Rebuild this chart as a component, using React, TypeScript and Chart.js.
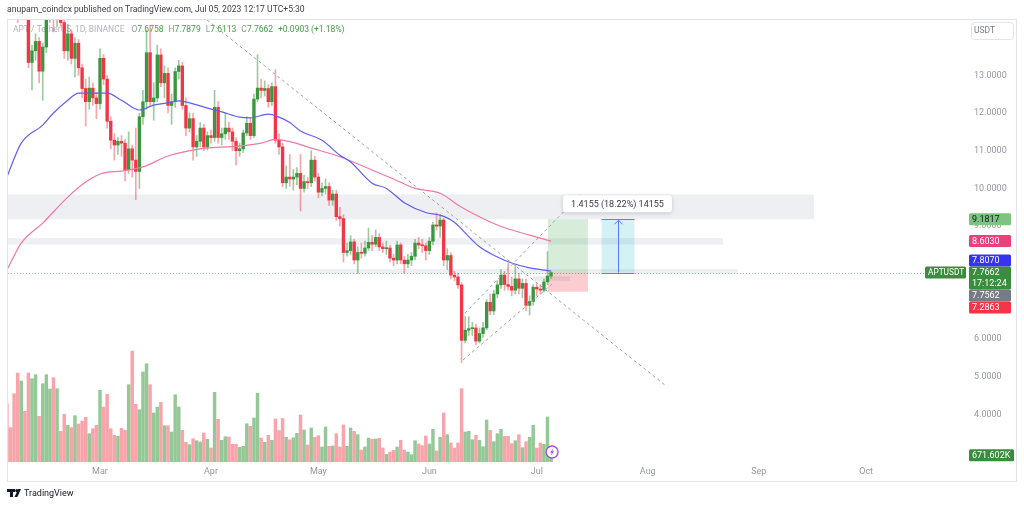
import React, { useEffect, useRef } from 'react';
import { Chart, registerables } from 'chart.js';

Chart.register(...registerables);

// ---- Daily candles APT/USDT, index 0 = Feb 03 2023 ... 152 = Jul 05 2023 ----
const opens = [
  17.20, 16.80, 16.40, 15.90, 15.00, 15.40, 14.90, 13.34, 13.65, 13.90,
  13.11, 13.75, 14.60, 14.90, 14.60, 14.80, 14.40, 13.65, 14.10, 13.45,
  13.85, 13.20, 12.65, 12.30, 12.66, 12.40, 12.25, 13.45, 12.90, 11.78,
  11.28, 11.15, 11.25, 11.20, 10.50, 11.05, 10.75, 10.45, 11.90, 12.30,
  13.60, 12.30, 12.40, 13.54, 12.80, 13.05, 12.20, 12.30, 13.10, 13.25,
  12.20, 11.60, 11.85, 11.10, 11.25, 11.60, 11.10, 11.40, 11.35, 12.15,
  11.35, 11.45, 11.60, 11.50, 11.25, 11.00, 11.05, 11.47, 11.73, 11.40,
  12.37, 12.66, 12.60, 12.65, 12.30, 12.70, 11.28, 11.10, 10.15, 10.30,
  10.25, 10.30, 10.40, 10.00, 10.18, 10.15, 10.75, 10.30, 9.90, 10.00,
  10.05, 9.69, 9.85, 9.25, 9.20, 8.30, 8.35, 8.58, 8.10, 8.30,
  8.28, 8.42, 8.57, 8.52, 8.70, 8.45, 8.40, 8.42, 8.15, 8.10,
  8.50, 8.10, 8.00, 8.10, 8.20, 8.55, 8.50, 8.48, 8.35, 8.60,
  9.03, 9.00, 9.16, 8.10, 8.22, 7.70, 7.65, 7.44, 5.97, 6.24,
  6.28, 6.30, 5.95, 6.15, 6.30, 6.98, 6.75, 7.20, 7.44, 7.70,
  7.45, 7.40, 7.30, 7.60, 7.35, 7.48, 6.90, 7.00, 7.38, 7.33,
  7.30, 7.52, 7.6758,
];
const highs = [
  17.60, 17.10, 16.70, 16.10, 15.70, 15.60, 15.10, 13.80, 14.10, 14.00,
  13.85, 14.80, 15.20, 15.10, 15.00, 14.95, 14.50, 14.35, 14.20, 14.00,
  13.95, 13.30, 12.90, 12.95, 12.80, 12.55, 13.70, 13.55, 13.00, 11.90,
  11.45, 11.35, 11.40, 11.30, 11.50, 11.15, 11.60, 12.00, 12.60, 14.20,
  14.30, 12.80, 13.80, 13.70, 13.25, 13.20, 12.50, 13.20, 13.40, 13.35,
  12.40, 12.00, 12.00, 11.40, 11.75, 11.70, 11.50, 11.55, 12.60, 12.30,
  11.60, 12.00, 11.75, 11.60, 11.35, 11.20, 11.55, 11.90, 11.85, 12.50,
  13.55, 12.90, 12.85, 12.75, 12.80, 13.15, 11.45, 11.20, 10.60, 10.90,
  10.50, 10.55, 10.90, 10.35, 10.30, 11.00, 10.85, 10.40, 10.15, 10.25,
  10.15, 9.95, 9.95, 9.50, 9.30, 8.55, 8.75, 8.65, 8.45, 8.55,
  8.60, 8.95, 8.75, 8.90, 8.80, 8.55, 8.60, 8.50, 8.25, 8.60,
  8.55, 8.20, 8.25, 8.30, 8.65, 8.70, 8.65, 8.55, 8.70, 9.10,
  9.35, 9.30, 9.20, 8.40, 8.30, 7.80, 7.75, 7.50, 6.60, 6.60,
  6.45, 6.40, 6.30, 6.45, 7.05, 7.20, 7.30, 7.55, 7.85, 7.80,
  8.02, 7.65, 7.98, 7.75, 7.60, 7.60, 7.15, 7.45, 7.50, 7.45,
  7.60, 8.32, 7.7879,
];
const lows = [
  16.60, 16.20, 15.70, 14.40, 14.80, 14.70, 13.20, 12.61, 13.40, 12.80,
  12.34, 13.60, 14.40, 14.15, 14.30, 14.30, 13.45, 13.40, 13.30, 12.95,
  13.00, 12.40, 11.65, 12.10, 12.20, 11.85, 12.10, 12.75, 11.60, 11.05,
  10.75, 10.90, 10.85, 10.20, 10.40, 10.30, 9.70, 10.00, 11.70, 12.10,
  12.20, 11.81, 12.30, 12.70, 12.40, 12.00, 11.70, 12.15, 12.90, 12.10,
  11.40, 11.50, 10.75, 10.85, 11.10, 11.00, 11.02, 11.20, 11.25, 11.20,
  11.15, 11.30, 11.30, 11.00, 10.62, 10.85, 10.95, 11.40, 11.30, 11.35,
  12.30, 12.40, 12.45, 12.15, 12.20, 11.20, 10.90, 10.05, 10.00, 10.05,
  9.95, 10.10, 9.40, 9.90, 10.00, 10.05, 10.20, 9.75, 9.80, 9.85,
  9.55, 9.55, 9.15, 9.00, 8.05, 8.20, 8.25, 8.00, 7.75, 8.15,
  8.20, 8.35, 8.35, 8.45, 8.35, 8.30, 8.25, 8.05, 7.95, 8.00,
  8.00, 7.75, 7.90, 7.95, 8.10, 8.40, 8.30, 8.10, 8.25, 8.50,
  8.90, 8.70, 7.95, 7.85, 7.60, 7.55, 7.35, 5.38, 5.90, 6.10,
  6.10, 5.85, 5.90, 6.05, 6.25, 6.65, 6.65, 7.10, 7.35, 7.30,
  7.30, 7.15, 7.20, 7.20, 7.10, 6.75, 6.64, 6.90, 7.15, 7.20,
  7.25, 7.45, 7.6113,
];
const closes = [
  16.80, 16.40, 15.90, 15.00, 15.40, 14.90, 13.34, 13.65, 13.90, 13.11,
  13.75, 14.60, 14.90, 14.60, 14.80, 14.40, 13.65, 14.10, 13.45, 13.85,
  13.20, 12.65, 12.30, 12.66, 12.40, 12.25, 13.45, 12.90, 11.78, 11.28,
  11.15, 11.25, 11.20, 10.50, 11.05, 10.75, 10.45, 11.90, 12.30, 13.60,
  12.30, 12.40, 13.54, 12.80, 13.05, 12.20, 12.30, 13.10, 13.25, 12.20,
  11.60, 11.85, 11.10, 11.25, 11.60, 11.10, 11.40, 11.35, 12.15, 11.35,
  11.45, 11.60, 11.50, 11.25, 11.00, 11.05, 11.47, 11.73, 11.40, 12.37,
  12.66, 12.60, 12.65, 12.30, 12.70, 11.28, 11.10, 10.15, 10.30, 10.25,
  10.30, 10.40, 10.00, 10.18, 10.15, 10.75, 10.30, 9.90, 10.00, 10.05,
  9.69, 9.85, 9.25, 9.20, 8.30, 8.35, 8.58, 8.10, 8.30, 8.28,
  8.42, 8.57, 8.52, 8.70, 8.45, 8.40, 8.42, 8.15, 8.10, 8.50,
  8.10, 8.00, 8.10, 8.20, 8.55, 8.50, 8.48, 8.35, 8.60, 9.03,
  9.00, 9.16, 8.10, 8.22, 7.70, 7.65, 7.44, 5.97, 6.24, 6.28,
  6.30, 5.95, 6.15, 6.30, 6.98, 6.75, 7.20, 7.44, 7.70, 7.45,
  7.40, 7.30, 7.60, 7.35, 7.48, 6.90, 7.00, 7.38, 7.33, 7.30,
  7.52, 7.6758, 7.7662,
];
// volume in millions
const volumes = [
  5.83, 3.43, 6.83, 8.90, 8.10, 5.07, 8.90, 8.33, 8.73, 4.57,
  7.83, 8.73, 7.30, 8.43, 7.33, 3.07, 4.77, 3.67, 3.43, 4.63,
  3.80, 4.10, 4.47, 2.83, 3.33, 3.67, 7.17, 5.50, 6.77, 3.33,
  2.67, 2.57, 3.37, 3.17, 7.73, 11.10, 5.77, 5.23, 9.00, 9.83,
  7.73, 4.90, 5.50, 5.97, 3.63, 3.63, 3.00, 6.73, 5.50, 3.17,
  1.97, 1.73, 2.33, 2.13, 2.00, 2.90, 2.27, 1.40, 6.97, 4.27,
  2.17, 2.53, 2.50, 1.77, 1.77, 1.47, 1.57, 3.83, 3.57, 4.40,
  6.87, 2.40, 1.97, 2.67, 2.17, 4.30, 3.15, 4.35, 2.48, 2.22,
  2.43, 2.87, 4.70, 3.20, 1.70, 3.40, 2.47, 2.63, 1.50, 3.50,
  1.57, 1.60, 2.83, 1.50, 3.70, 1.57, 3.40, 3.07, 2.73, 1.20,
  1.50, 2.40, 2.27, 2.30, 2.37, 1.40, 0.77, 1.00, 1.17, 1.50,
  2.17, 1.20, 1.00, 0.73, 2.13, 1.80, 1.63, 2.60, 1.80, 3.27,
  1.10, 2.47, 4.90, 2.73, 1.90, 1.40, 1.90, 7.33, 3.00, 3.07,
  2.23, 2.67, 2.17, 1.53, 4.20, 3.17, 2.03, 2.83, 3.27, 2.57,
  2.57, 1.83, 2.13, 2.73, 1.43, 2.03, 2.47, 3.67, 1.40, 1.90,
  1.77, 4.50, 0.67,
];

// moving averages (candle index, price)
const maFastX = [0, 4, 10, 13, 17, 20, 26, 28, 32, 37, 41, 45, 48, 51, 56, 60, 65, 68, 73, 76, 79, 82, 88, 93, 96, 102, 106, 111, 117, 121, 125, 129, 132, 137, 141, 146, 152];
const maFastY = [10.31, 11.20, 11.68, 12.00, 12.34, 12.53, 12.53, 12.53, 12.34, 12.08, 12.21, 12.27, 12.32, 12.27, 12.13, 12.03, 11.89, 11.87, 11.97, 11.89, 11.75, 11.52, 11.28, 10.88, 10.70, 10.14, 10.00, 9.62, 9.36, 9.29, 9.10, 8.72, 8.45, 8.18, 8.02, 7.89, 7.807];
const maSlowX = [0, 4, 10, 17, 22, 27, 32, 38, 45, 54, 65, 71, 75, 79, 85, 93, 102, 108, 114, 121, 127, 137, 146, 152];
const maSlowY = [7.84, 8.55, 9.08, 9.77, 10.17, 10.41, 10.46, 10.57, 10.86, 11.05, 11.12, 11.20, 11.30, 11.24, 11.07, 10.84, 10.49, 10.25, 10.00, 9.87, 9.50, 9.03, 8.76, 8.603];

// axis
const monthTicks = [26, 57, 87, 118, 148, 179, 210, 240];
const monthLabels = ['Mar', 'Apr', 'May', 'Jun', 'Jul', 'Aug', 'Sep', 'Oct'];
const priceTicks = [4, 5, 6, 9, 10, 11, 12, 13, 14];

// drawings: horizontal zones
const zoneStart = [-2, -2, 79.1];
const zoneEnd = [225.4, 200, 204.2];
const zoneLow = [9.18, 8.51, 7.73];
const zoneHigh = [9.84, 8.68, 7.86];

// dashed trend lines
const trendX1 = [55.9, 127.96, 127.4];
const trendY1 = [14.467, 6.695, 5.448];
const trendX2 = [183.8, 160.6, 152.3];
const trendY2 = [4.785, 9.878, 7.464];

// long position & price range tools
const longStart = 151.1, longEnd = 162.3;
const entryPrice = 7.7662, targetPrice = 9.1817, stopPrice = 7.2863;
const rangeStart = 166.1, rangeEnd = 175.3;
const rangeText = '1.4155 (18.22%) 14155';

// legend
const legendTitle = 'APT / TetherUS, 1D, BINANCE';
const legendKeys = ['O', 'H', 'L', 'C'];
const legendVals = ['7.6758', '7.7879', '7.6113', '7.7662'];
const legendChange = '+0.0903 (+1.18%)';

// right axis labels
const tagValues = [9.1817, 8.6030, 7.8070, 7.7562, 7.2863];
const tagBg = ['#7cc47f', '#ec407a', '#3434f2', '#787b86', '#f23645'];
const tagFg = ['#131722', '#ffffff', '#ffffff', '#ffffff', '#ffffff'];
const lastVolumeText = '671.602K';
const countdownText = '17:12:24';

const UP = '#3a973d';
const DOWN = '#f23645';
const UP_WICK = 'rgba(58,151,61,0.5)';
const DOWN_WICK = 'rgba(242,54,69,0.45)';
const UP_VOL = 'rgba(62,155,65,0.55)';
const DOWN_VOL = 'rgba(242,54,69,0.45)';
const FONT = 'Roboto, "Noto Sans", sans-serif';

function rr(ctx: CanvasRenderingContext2D, x: number, y: number, w: number, h: number, r: number) {
  ctx.beginPath();
  ctx.moveTo(x + r, y);
  ctx.lineTo(x + w - r, y);
  ctx.quadraticCurveTo(x + w, y, x + w, y + r);
  ctx.lineTo(x + w, y + h - r);
  ctx.quadraticCurveTo(x + w, y + h, x + w - r, y + h);
  ctx.lineTo(x + r, y + h);
  ctx.quadraticCurveTo(x, y + h, x, y + h - r);
  ctx.lineTo(x, y + r);
  ctx.quadraticCurveTo(x, y, x + r, y);
  ctx.closePath();
}

function tag(ctx: CanvasRenderingContext2D, x: number, top: number, w: number, h: number, bg: string, fg: string, lines: string[], size = 9) {
  ctx.fillStyle = bg;
  rr(ctx, x, top, w, h, 1.5);
  ctx.fill();
  ctx.fillStyle = fg;
  ctx.font = `${size}px ${FONT}`;
  ctx.textAlign = 'left';
  ctx.textBaseline = 'middle';
  lines.forEach((t, i) => ctx.fillText(t, x + 3, top + 6.5 + i * 11));
}

const drawings = {
  id: 'drawings',
  beforeDatasetsDraw(chart: any) {
    const { ctx, chartArea: a, scales } = chart;
    const x = scales.x, y = scales.y;
    ctx.save();
    ctx.beginPath();
    ctx.rect(a.left, a.top, a.right - a.left, a.bottom - a.top);
    ctx.clip();
    // zones
    ctx.fillStyle = '#eeeff2';
    for (let i = 0; i < zoneLow.length; i++) {
      const x0 = x.getPixelForValue(zoneStart[i]);
      const x1 = x.getPixelForValue(zoneEnd[i]);
      const y0 = y.getPixelForValue(zoneHigh[i]);
      const y1 = y.getPixelForValue(zoneLow[i]);
      ctx.fillRect(x0, y0, x1 - x0, y1 - y0);
    }
    // long position
    const lx0 = x.getPixelForValue(longStart), lx1 = x.getPixelForValue(longEnd);
    const yE = y.getPixelForValue(entryPrice), yT = y.getPixelForValue(targetPrice), yS = y.getPixelForValue(stopPrice);
    ctx.fillStyle = 'rgba(76,175,80,0.22)';
    ctx.fillRect(lx0, yT, lx1 - lx0, yE - yT);
    ctx.fillStyle = 'rgba(242,54,69,0.25)';
    ctx.fillRect(lx0, yE, lx1 - lx0, yS - yE + 1);
    ctx.fillStyle = 'rgba(120,123,134,0.16)';
    const gx0 = x.getPixelForValue(147), gx1 = x.getPixelForValue(157.3);
    ctx.fillRect(gx0, y.getPixelForValue(7.67), gx1 - gx0, y.getPixelForValue(7.55) - y.getPixelForValue(7.67));
    // price range
    const rx0 = x.getPixelForValue(rangeStart), rx1 = x.getPixelForValue(rangeEnd);
    ctx.fillStyle = 'rgba(0,172,193,0.17)';
    ctx.fillRect(rx0, yT, rx1 - rx0, yE - yT);
    ctx.strokeStyle = '#5b80ff';
    ctx.lineWidth = 1;
    ctx.beginPath();
    ctx.moveTo(rx0, Math.round(yT) + 0.5); ctx.lineTo(rx1, Math.round(yT) + 0.5);
    ctx.moveTo(rx0, Math.round(yE) + 0.5); ctx.lineTo(rx1, Math.round(yE) + 0.5);
    ctx.stroke();
    // last price dotted line
    ctx.strokeStyle = 'rgba(62,155,65,0.55)';
    ctx.setLineDash([1, 2]);
    ctx.beginPath();
    ctx.moveTo(a.left, Math.round(yE) + 0.5);
    ctx.lineTo(a.right, Math.round(yE) + 0.5);
    ctx.stroke();
    ctx.setLineDash([]);
    ctx.restore();

    // legend
    ctx.save();
    ctx.font = `8.5px ${FONT}`;
    ctx.textBaseline = 'middle';
    ctx.textAlign = 'left';
    ctx.fillStyle = '#b2b5be';
    let lx = 13;
    ctx.fillText(legendTitle, lx, 30);
    lx += ctx.measureText(legendTitle).width + 7;
    legendKeys.forEach((k, i) => {
      ctx.fillStyle = '#9598a1';
      ctx.fillText(k, lx, 30);
      lx += ctx.measureText(k).width;
      ctx.fillStyle = '#43a047';
      ctx.fillText(legendVals[i], lx, 30);
      lx += ctx.measureText(legendVals[i]).width + 5;
    });
    ctx.fillStyle = '#43a047';
    ctx.fillText(legendChange, lx, 30);
    ctx.restore();
  },
  afterDatasetsDraw(chart: any) {
    const { ctx, chartArea: a, scales } = chart;
    const x = scales.x, y = scales.y;
    ctx.save();
    ctx.beginPath();
    ctx.rect(a.left, a.top, a.right - a.left, a.bottom - a.top);
    ctx.clip();
    ctx.strokeStyle = '#9da1aa';
    ctx.lineWidth = 1;
    ctx.setLineDash([3, 3]);
    for (let i = 0; i < trendX1.length; i++) {
      ctx.beginPath();
      ctx.moveTo(x.getPixelForValue(trendX1[i]), y.getPixelForValue(trendY1[i]));
      ctx.lineTo(x.getPixelForValue(trendX2[i]), y.getPixelForValue(trendY2[i]));
      ctx.stroke();
    }
    ctx.setLineDash([]);
    // range arrow
    const rx0 = x.getPixelForValue(rangeStart), rx1 = x.getPixelForValue(rangeEnd);
    const cx = Math.round((rx0 + rx1) / 2) + 0.5;
    const yE = y.getPixelForValue(entryPrice), yT = y.getPixelForValue(targetPrice);
    ctx.strokeStyle = '#4f79ff';
    ctx.beginPath();
    ctx.moveTo(cx, yE);
    ctx.lineTo(cx, yT + 1);
    ctx.moveTo(cx - 4, yT + 5);
    ctx.lineTo(cx, yT + 1);
    ctx.lineTo(cx + 4, yT + 5);
    ctx.stroke();
    // range label
    ctx.font = `9px ${FONT}`;
    const tw = ctx.measureText(rangeText).width;
    const bw = tw + 16, bh = 17;
    const bx = cx - bw / 2 - 1, by = yT - 24;
    ctx.shadowColor = 'rgba(0,0,0,0.18)';
    ctx.shadowBlur = 4;
    ctx.shadowOffsetY = 1;
    ctx.fillStyle = '#ffffff';
    rr(ctx, bx, by, bw, bh, 3);
    ctx.fill();
    ctx.shadowColor = 'transparent';
    ctx.fillStyle = '#363a45';
    ctx.textAlign = 'center';
    ctx.textBaseline = 'middle';
    ctx.fillText(rangeText, bx + bw / 2, by + bh / 2 + 0.5);
    ctx.restore();

    // lightning icon near last bar
    const ix = x.getPixelForValue(opens.length - 1) + 1, iy = a.bottom - 10;
    ctx.save();
    ctx.fillStyle = '#ffffff';
    ctx.strokeStyle = '#ab47d9';
    ctx.lineWidth = 1.3;
    ctx.beginPath();
    ctx.arc(ix, iy, 6, 0, Math.PI * 2);
    ctx.fill();
    ctx.stroke();
    ctx.fillStyle = '#ab47d9';
    ctx.beginPath();
    ctx.moveTo(ix + 1.5, iy - 4);
    ctx.lineTo(ix - 2, iy + 0.8);
    ctx.lineTo(ix - 0.2, iy + 0.8);
    ctx.lineTo(ix - 1.5, iy + 4);
    ctx.lineTo(ix + 2, iy - 0.8);
    ctx.lineTo(ix + 0.2, iy - 0.8);
    ctx.closePath();
    ctx.fill();
    ctx.restore();
  },
  afterDraw(chart: any) {
    const { ctx, chartArea: a, scales } = chart;
    const y = scales.y, yv = scales.yv;
    ctx.save();
    // frame
    ctx.strokeStyle = '#e0e3eb';
    ctx.lineWidth = 1;
    ctx.strokeRect(7.5, 19.5, 1009, 462);
    // header
    ctx.font = `8.6px ${FONT}`;
    ctx.fillStyle = '#3b3e46';
    ctx.textAlign = 'left';
    ctx.textBaseline = 'middle';
    ctx.fillText('anupam_coindcx published on TradingView.com, Jul 05, 2023 12:17 UTC+5:30', 7, 10);
    // footer logo
    ctx.fillStyle = '#131722';
    ctx.fillRect(7, 489, 8, 3);
    ctx.fillRect(10, 489, 3, 8);
    ctx.beginPath();
    ctx.arc(16.8, 490.6, 1.6, 0, Math.PI * 2);
    ctx.fill();
    ctx.beginPath();
    ctx.moveTo(14.5, 497);
    ctx.lineTo(18.2, 489);
    ctx.lineTo(21, 489);
    ctx.lineTo(17.4, 497);
    ctx.closePath();
    ctx.fill();
    ctx.font = `9px ${FONT}`;
    ctx.fillText('TradingView', 24, 493.5);
    // USDT box
    ctx.fillStyle = '#ffffff';
    ctx.strokeStyle = '#e0e3eb';
    rr(ctx, 971.5, 22.5, 42, 17, 3);
    ctx.fill();
    ctx.stroke();
    ctx.fillStyle = '#787b86';
    ctx.font = `8.5px ${FONT}`;
    ctx.fillText('USDT', 974, 30.5);

    // price tags
    const tx = a.right + 3, tw = 42;
    const yCur = y.getPixelForValue(entryPrice);
    const curTop = yCur - 6, curBottom = curTop + 23;
    const above = tagValues.map((v, i) => i).filter(i => tagValues[i] > entryPrice).sort((p, q) => tagValues[p] - tagValues[q]);
    const below = tagValues.map((v, i) => i).filter(i => tagValues[i] < entryPrice).sort((p, q) => tagValues[q] - tagValues[p]);
    let limit = curTop;
    above.forEach(i => {
      const top = Math.min(y.getPixelForValue(tagValues[i]) - 6, limit - 12);
      tag(ctx, tx, top, tw, 12, tagBg[i], tagFg[i], [tagValues[i].toFixed(4)]);
      limit = top;
    });
    limit = curBottom;
    below.forEach(i => {
      const top = Math.max(y.getPixelForValue(tagValues[i]) - 6, limit);
      tag(ctx, tx, top, tw, 12, tagBg[i], tagFg[i], [tagValues[i].toFixed(4)]);
      limit = top + 12;
    });
    tag(ctx, tx, curTop, tw, 23, '#388e3c', '#ffffff', [entryPrice.toFixed(4), countdownText]);
    tag(ctx, a.right - 41, curTop, 41, 12, '#388e3c', '#ffffff', ['APTUSDT'], 8.3);
    const yVol = yv.getPixelForValue(volumes[volumes.length - 1]);
    tag(ctx, tx, yVol - 6, 45, 12, '#388e3c', '#ffffff', [lastVolumeText]);
    ctx.restore();
  },
};

export default function App() {
  const ref = useRef<HTMLCanvasElement>(null);
  useEffect(() => {
    document.body.style.margin = '0';
    document.body.style.overflow = 'hidden';
    const canvas = ref.current;
    if (!canvas) return;
    const idx = opens.map((_, i) => i);
    const up = opens.map((o, i) => closes[i] >= o);
    const chart = new Chart(canvas, {
      type: 'bar',
      data: {
        datasets: [
          {
            type: 'line',
            label: 'MA fast',
            data: maFastX.map((v, i) => ({ x: v, y: maFastY[i] })),
            borderColor: '#5e5ef7',
            borderWidth: 1.2,
            pointRadius: 0,
            cubicInterpolationMode: 'monotone',
            yAxisID: 'y',
            order: 0,
          } as any,
          {
            type: 'line',
            label: 'MA slow',
            data: maSlowX.map((v, i) => ({ x: v, y: maSlowY[i] })),
            borderColor: '#f2799f',
            borderWidth: 1.2,
            pointRadius: 0,
            cubicInterpolationMode: 'monotone',
            yAxisID: 'y',
            order: 1,
          } as any,
          {
            label: 'body',
            data: idx.map(i => ({ x: i, y: [Math.min(opens[i], closes[i]), Math.max(opens[i], closes[i])] })),
            backgroundColor: up.map(u => (u ? UP : DOWN)),
            barThickness: 2.7,
            minBarLength: 1,
            grouped: false,
            clip: 0,
            yAxisID: 'y',
            order: 2,
          } as any,
          {
            label: 'wick',
            data: idx.map(i => ({ x: i, y: [lows[i], highs[i]] })),
            backgroundColor: up.map(u => (u ? UP_WICK : DOWN_WICK)),
            barThickness: 1,
            grouped: false,
            clip: 0,
            yAxisID: 'y',
            order: 3,
          } as any,
          {
            label: 'volume',
            data: idx.map(i => ({ x: i, y: volumes[i] })),
            backgroundColor: up.map(u => (u ? UP_VOL : DOWN_VOL)),
            barThickness: 2.8,
            grouped: false,
            clip: 0,
            yAxisID: 'yv',
            order: 4,
          } as any,
        ],
      },
      options: {
        responsive: true,
        maintainAspectRatio: false,
        animation: false,
        events: [],
        layout: { padding: { left: 8, right: 8, top: 20, bottom: 25 } },
        plugins: { legend: { display: false }, tooltip: { enabled: false } },
        scales: {
          x: {
            type: 'linear',
            min: 0.3,
            max: 267.9,
            offset: false,
            grid: { display: false, drawTicks: false },
            border: { display: false },
            afterBuildTicks: (s: any) => { s.ticks = monthTicks.map(v => ({ value: v })); },
            afterFit: (s: any) => { s.height = 19; },
            ticks: {
              autoSkip: false,
              maxRotation: 0,
              padding: 4,
              color: '#9598a1',
              font: { family: FONT, size: 9 },
              callback: (v: any) => monthLabels[monthTicks.indexOf(Number(v))] ?? '',
            },
          },
          y: {
            type: 'linear',
            position: 'right',
            min: 2.743,
            max: 14.467,
            grid: { display: false, drawTicks: false },
            border: { display: false },
            afterBuildTicks: (s: any) => { s.ticks = priceTicks.map(v => ({ value: v })); },
            afterFit: (s: any) => { s.width = 50; },
            ticks: {
              padding: 8,
              color: '#9598a1',
              font: { family: FONT, size: 9 },
              callback: (v: any) => Number(v).toFixed(4),
            },
          },
          yv: { type: 'linear', display: false, min: 0, max: 44.2 },
        },
      } as any,
      plugins: [drawings],
    });
    return () => chart.destroy();
  }, []);
  return (
    <div style={{ width: 1024, height: 506, position: 'relative', background: '#ffffff' }}>
      <canvas ref={ref} />
    </div>
  );
}
